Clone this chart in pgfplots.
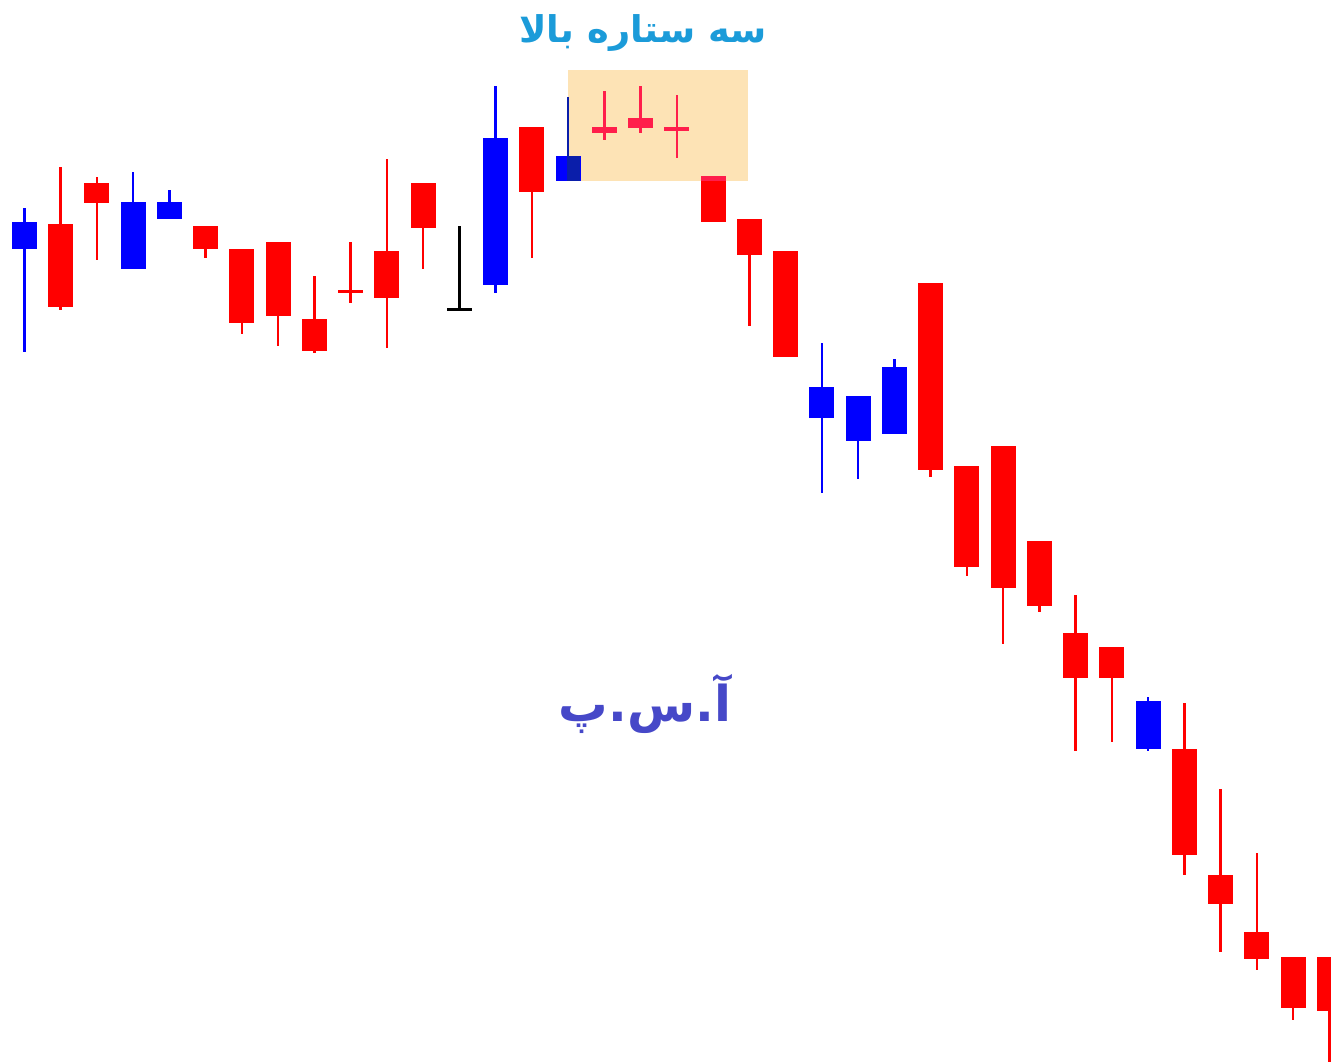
\documentclass[border=0pt]{standalone}
\usepackage{pgfplots}
\pgfplotsset{compat=1.18}
\usepackage{pgfplotstable}
\usepackage{fontspec}
\newfontfamily\arabicfont[Script=Arabic]{DejaVu Sans}
\TeXXeTstate=1
\definecolor{cred}{RGB}{255,0,0}
\definecolor{cblue}{RGB}{0,0,255}
\definecolor{ccrim}{RGB}{255,30,75}
\definecolor{cdark}{RGB}{10,30,170}
\definecolor{cbox}{RGB}{253,227,181}
\definecolor{ctitle}{RGB}{27,155,217}
\definecolor{cwater}{RGB}{70,72,200}

% columns: x, body top, body bottom, high, low
\pgfplotstableread{
x t b h l
1 837 753.7 893.7 751
2 877.7 857.7 884.3 801
5 834.7 812.3 834.7 803.3
6 812 737.7 812 726.7
7 819 745 819 715
8 741.7 710.3 785 708.3
9 771 767.7 818.7 758.3
10 810 762.7 902.3 713
11 877.7 832.7 877.7 792
14 934.3 869 934.3 803.3
19 885 839.3 885 839.3
20 841.7 805.7 841.7 735.3
21 810 703.7 810 703.7
25 778.3 591 778.3 584.3
26 595 493.7 595 485
27 615.3 473.3 615.3 417
28 520.3 455.3 520.3 448.7
29 427.7 382.7 466 310.3
30 414.3 382.7 414.3 319.3
32 312 206 357.7 186
33 185.7 157 271.7 109.3
34 129.3 102 208.3 91
35 104.3 52.7 104.3 41
36 104.3 50.3 104.3 -10
}\redtab
\pgfplotstableread{
x t b h l
0 839.3 812.3 852.7 708.7
3 859.3 792 889 792
4 859.3 842 871 842
13 922.7 776.3 975 767.7
15 904.7 880.3 904.7 880.3
22 674 643 717.7 568.3
23 665 620.3 665 581.7
24 694.3 627 701.7 627
31 360 312.3 364.3 310.3
}\bluetab
\pgfplotstableread{
x t b h l
12 753 750.5 835 750.5
}\blacktab
\pgfplotstableread{
x t b h l
16 934.3 928.3 970.3 921
17 943.3 932.7 975 927.7
18 934.3 930.3 966 902.7
19 885 880.3 885 880.3
}\crimtab
% darker part of candle 16 under the highlight
\pgfplotstableread{
x t b h l
15.16 904.7 880.3 904.7 880.3
}\darkbody
\pgfplotstableread{
x t b h l
15 904.7 880.3 963.7 880.3
}\darkwick

\pgfplotsset{
  body/.style={draw=none, mark=none, forget plot,
    error bars/.cd, y dir=both, y explicit, error mark=none,
    error bar style={draw=#1, line width=12.5pt}},
  bodyn/.style={draw=none, mark=none, forget plot,
    error bars/.cd, y dir=both, y explicit, error mark=none,
    error bar style={draw=#1, line width=6.5pt}},
  wick/.style={draw=none, mark=none, forget plot,
    error bars/.cd, y dir=both, y explicit, error mark=none,
    error bar style={draw=#1, line width=1.3pt}},
}

\begin{document}
\begin{tikzpicture}
\begin{axis}[name=ax, hide axis, scale only axis,
  width=665.5pt, height=530.5pt,
  xmin=-0.67034, xmax=36.0469, ymin=0, ymax=1061,
  clip=true]
\addplot[fill=cbox, draw=none, forget plot] coordinates {(14.99,990.7) (19.972,990.7) (19.972,880.3) (14.99,880.3)} -- cycle;

\addplot[wick=cred] table[x=x, y expr={(\thisrow{h}+\thisrow{l})/2}, y error expr={(\thisrow{h}-\thisrow{l})/2}] {\redtab};
\addplot[body=cred] table[x=x, y expr={(\thisrow{t}+\thisrow{b})/2}, y error expr={(\thisrow{t}-\thisrow{b})/2}] {\redtab};
\addplot[wick=cblue] table[x=x, y expr={(\thisrow{h}+\thisrow{l})/2}, y error expr={(\thisrow{h}-\thisrow{l})/2}] {\bluetab};
\addplot[body=cblue] table[x=x, y expr={(\thisrow{t}+\thisrow{b})/2}, y error expr={(\thisrow{t}-\thisrow{b})/2}] {\bluetab};
\addplot[wick=black] table[x=x, y expr={(\thisrow{h}+\thisrow{l})/2}, y error expr={(\thisrow{h}-\thisrow{l})/2}] {\blacktab};
\addplot[body=black] table[x=x, y expr={(\thisrow{t}+\thisrow{b})/2}, y error expr={(\thisrow{t}-\thisrow{b})/2}] {\blacktab};
\addplot[wick=ccrim] table[x=x, y expr={(\thisrow{h}+\thisrow{l})/2}, y error expr={(\thisrow{h}-\thisrow{l})/2}] {\crimtab};
\addplot[body=ccrim] table[x=x, y expr={(\thisrow{t}+\thisrow{b})/2}, y error expr={(\thisrow{t}-\thisrow{b})/2}] {\crimtab};
\addplot[wick=cdark] table[x=x, y expr={(\thisrow{h}+\thisrow{l})/2}, y error expr={(\thisrow{h}-\thisrow{l})/2}] {\darkwick};
\addplot[bodyn=cdark] table[x=x, y expr={(\thisrow{t}+\thisrow{b})/2}, y error expr={(\thisrow{t}-\thisrow{b})/2}] {\darkbody};

\node[text=ctitle, font=\arabicfont\fontsize{18.4}{22}\selectfont\bfseries, anchor=center] at (axis cs:17.07,1028) {\beginR سه ستاره بالا\endR};
\node[text=cwater, font=\arabicfont\fontsize{24.7}{30}\selectfont\bfseries, anchor=center] at (axis cs:17.12,357) {\beginR آ.س.پ\endR};
\end{axis}
\pgfresetboundingbox
\path (ax.south west) rectangle (ax.north east);
\end{tikzpicture}
\end{document}
